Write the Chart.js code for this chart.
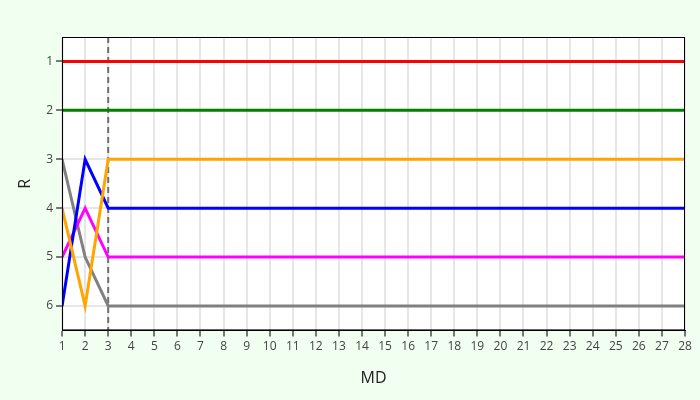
<!DOCTYPE html>
<html>
<head>
<meta charset="utf-8">
<script src="https://cdn.jsdelivr.net/npm/chart.js@4"></script>
<style>
  html, body { margin: 0; padding: 0; background: #f0fff0; }
  #wrap { width: 700px; height: 400px; }
</style>
</head>
<body>
<div id="wrap"><canvas id="chart"></canvas></div>
<script>
const days = Array.from({ length: 28 }, (_, i) => i + 1);
const red = [1, 1, 1, 1, 1, 1, 1, 1, 1, 1, 1, 1, 1, 1, 1, 1, 1, 1, 1, 1, 1, 1, 1, 1, 1, 1, 1, 1];
const green = [2, 2, 2, 2, 2, 2, 2, 2, 2, 2, 2, 2, 2, 2, 2, 2, 2, 2, 2, 2, 2, 2, 2, 2, 2, 2, 2, 2];
const orange = [4, 6, 3, 3, 3, 3, 3, 3, 3, 3, 3, 3, 3, 3, 3, 3, 3, 3, 3, 3, 3, 3, 3, 3, 3, 3, 3, 3];
const blue = [6, 3, 4, 4, 4, 4, 4, 4, 4, 4, 4, 4, 4, 4, 4, 4, 4, 4, 4, 4, 4, 4, 4, 4, 4, 4, 4, 4];
const magenta = [5, 4, 5, 5, 5, 5, 5, 5, 5, 5, 5, 5, 5, 5, 5, 5, 5, 5, 5, 5, 5, 5, 5, 5, 5, 5, 5, 5];
const gray = [3, 5, 6, 6, 6, 6, 6, 6, 6, 6, 6, 6, 6, 6, 6, 6, 6, 6, 6, 6, 6, 6, 6, 6, 6, 6, 6, 6];
const markerDay = 3;
const yTicks = [1, 2, 3, 4, 5, 6];

function series(values, color) {
  return {
    data: values.map((v, i) => ({ x: days[i], y: v })),
    borderColor: color,
    borderWidth: 3,
    pointRadius: 0,
    tension: 0,
    fill: false,
  };
}

const plotBg = {
  id: "plotBg",
  beforeDraw(c) {
    const { ctx, chartArea: a } = c;
    ctx.save();
    ctx.fillStyle = "#ffffff";
    ctx.fillRect(a.left, a.top, a.right - a.left, a.bottom - a.top);
    ctx.restore();
  },
  afterDraw(c) {
    const { ctx, chartArea: a } = c;
    ctx.save();
    ctx.strokeStyle = "#000000";
    ctx.lineWidth = 1;
    ctx.strokeRect(a.left + 0.5, a.top + 0.5, a.right - a.left - 1, a.bottom - a.top - 1);
    ctx.restore();
  },
};

Chart.defaults.font.family = "'Open Sans', 'DejaVu Sans', sans-serif";

new Chart(document.getElementById("chart"), {
  type: "line",
  data: {
    datasets: [
      series(red, "#ff0000"),
      series(green, "#008000"),
      series(orange, "#ffa500"),
      series(blue, "#0000ff"),
      series(magenta, "#ff00ff"),
      series(gray, "#808080"),
      {
        data: [{ x: markerDay, y: 0.5 }, { x: markerDay, y: 6.5 }],
        borderColor: "#707070",
        borderWidth: 2,
        borderDash: [6, 4],
        pointRadius: 0,
      },
    ],
  },
  options: {
    responsive: true,
    maintainAspectRatio: false,
    animation: false,
    layout: { padding: { top: 37, right: 15, left: 12, bottom: 8 } },
    plugins: { legend: { display: false }, tooltip: { enabled: false } },
    scales: {
      x: {
        type: "linear",
        min: 1,
        max: 28,
        afterBuildTicks: (s) => { s.ticks = days.map((d) => ({ value: d })); },
        ticks: { color: "#444", font: { size: 12 }, autoSkip: false, maxRotation: 0 },
        grid: { color: "#e6e6e6", lineWidth: 2, tickColor: "#777", tickLength: 6 },
        border: { color: "#000" },
        title: { display: true, text: "MD", color: "#222", font: { size: 16 }, padding: { top: 12 } },
      },
      y: {
        reverse: true,
        min: 0.5,
        max: 6.5,
        afterBuildTicks: (s) => { s.ticks = yTicks.map((v) => ({ value: v })); },
        ticks: { color: "#444", font: { size: 12 } },
        grid: { color: "#e6e6e6", lineWidth: 2, tickColor: "#777", tickLength: 6 },
        border: { color: "#000" },
        title: { display: true, text: "R", color: "#222", font: { size: 16 }, padding: { bottom: 8 } },
      },
    },
  },
  plugins: [plotBg],
});
</script>
</body>
</html>
